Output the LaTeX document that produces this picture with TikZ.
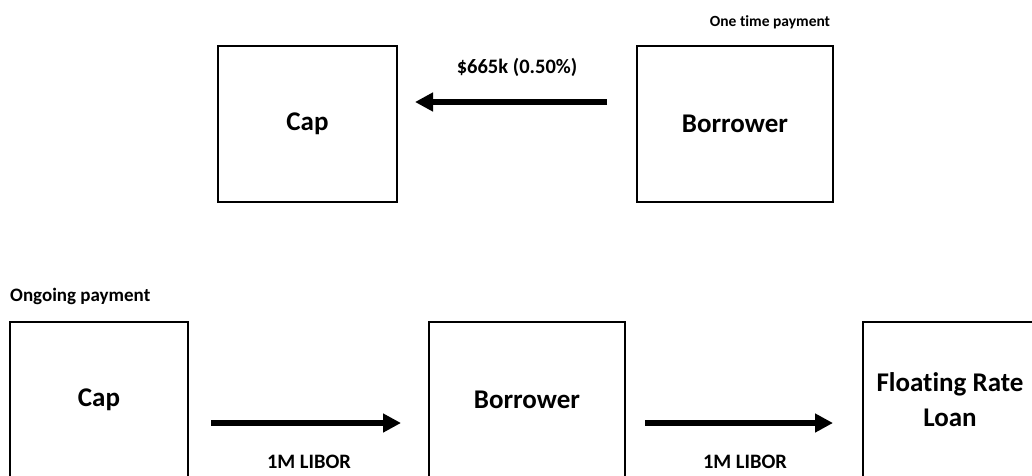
\documentclass[tikz,border=0pt]{standalone}
\usepackage{fontspec}
\setmainfont{Carlito}[Ligatures=NoCommon]
\usetikzlibrary{arrows.meta}
\tikzset{
  box/.style={draw=black, line width=2.5pt, fill=white, inner sep=0pt, outer sep=0pt,
    align=center, font=\fontsize{27}{35}\selectfont\bfseries},
  flow/.style={line width=6pt, -{Triangle[length=18pt,width=18pt]}},
  smalllbl/.style={inner sep=0pt, font=\fontsize{20.5}{24}\selectfont\bfseries},
  headlbl/.style={inner sep=0pt, font=\fontsize{15.5}{19}\selectfont\bfseries},
}
\begin{document}
\begin{tikzpicture}[x=1pt,y=-1pt]
\useasboundingbox (0,0) rectangle (1032,475);
\clip (0,0) rectangle (1032,475);
% top row
\node[box, minimum width=179pt, minimum height=156pt] (capT) at (307.5,124) {Cap};
\node[box, minimum width=196pt, minimum height=156pt] (borT) at (735,124) {Borrower};
\node[headlbl] (otp) at (770,22) {One time payment};
\node[smalllbl] (amt) at (517,67) {\$665k (0.50\%)};
\draw[flow, shorten <=30pt, shorten >=18pt] ([yshift=22pt]borT.west) -- ([yshift=22pt]capT.east);
% bottom row
\node[headlbl, font=\fontsize{19}{23}\selectfont\bfseries, anchor=west] (ong) at (10,296) {Ongoing payment};
\node[box, minimum width=178pt, minimum height=156pt] (capB) at (99,400) {Cap};
\node[box, minimum width=196pt, minimum height=156pt] (borB) at (527,400) {Borrower};
\node[box, minimum width=174pt, minimum height=156pt] (loan) at (950,400) {Floating Rate\\Loan};
\draw[flow, shorten <=23pt, shorten >=28pt] ([yshift=-23pt]capB.east) -- ([yshift=-23pt]borB.west);
\draw[flow, shorten <=20pt, shorten >=30pt] ([yshift=-23pt]borB.east) -- ([yshift=-23pt]loan.west);
\node[smalllbl] (lib1) at (309,462) {1M LIBOR};
\node[smalllbl] (lib2) at (745,462) {1M LIBOR};
\end{tikzpicture}
\end{document}
